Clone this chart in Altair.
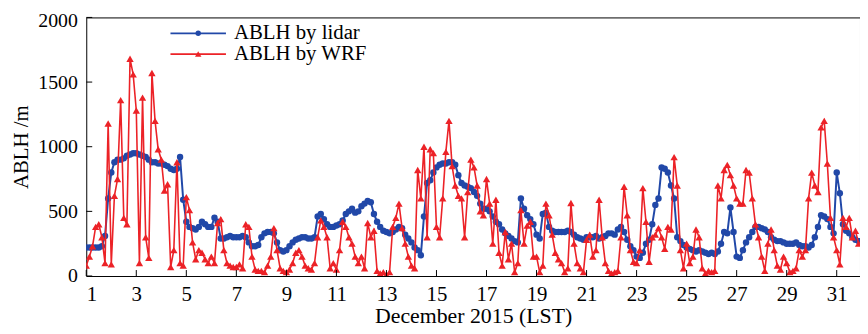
import altair as alt
import pandas as pd

# ---------------- data (3-hourly) ----------------
days = list(range(1, 32))
hours = [0, 3, 6, 9, 12, 15, 18, 21]

lidar = [
    220, 220, 220, 220, 220, 230, 310, 600,    # 1
    800, 880, 900, 900, 910, 930, 940, 950,    # 2
    950, 940, 930, 920, 900, 880, 880, 870,    # 3
    870, 860, 850, 830, 820, 830, 920, 590,    # 4
    420, 380, 370, 360, 380, 420, 400, 380,    # 5
    380, 450, 420, 290, 290, 300, 310, 300,    # 6
    300, 300, 310, 300, 260, 230, 230, 240,    # 7
    300, 330, 340, 340, 330, 260, 200, 190,    # 8
    200, 230, 260, 280, 290, 300, 300, 290,    # 9
    290, 300, 460, 480, 440, 400, 380, 380,    # 10
    390, 400, 430, 480, 500, 520, 490, 500,    # 11
    540, 560, 580, 570, 480, 420, 380, 350,    # 12
    340, 330, 340, 360, 380, 370, 320, 290,    # 13
    260, 220, 200, 160, 460, 720, 740, 800,    # 14
    840, 860, 870, 870, 880, 880, 860, 780,    # 15
    720, 700, 690, 680, 650, 620, 560, 520,    # 16
    520, 500, 460, 420, 400, 360, 330, 310,    # 17
    290, 270, 260, 600, 520, 470, 440, 400,    # 18
    320, 290, 480, 490, 380, 350, 340, 340,    # 19
    340, 340, 350, 340, 320, 300, 290, 280,    # 20
    300, 300, 300, 310, 290, 300, 310, 330,    # 21
    330, 320, 360, 380, 340, 280, 230, 200,    # 22
    150, 140, 180, 250, 280, 400, 550, 600,    # 23
    840, 830, 800, 700, 600, 300, 270, 240,    # 24
    220, 210, 200, 190, 200, 190, 180, 170,    # 25
    180, 170, 190, 250, 340, 330, 530, 340,    # 26
    150, 140, 200, 260, 300, 340, 380, 380,    # 27
    370, 360, 340, 300, 280, 270, 270, 260,    # 28
    250, 250, 250, 260, 240, 230, 230, 220,    # 29
    240, 300, 380, 470, 460, 440, 380, 330,    # 30
    800, 640, 400, 350, 330, 300, 280, 270,    # 31
]

wrf = [
    80, 150, 230, 380, 400, 300, 100, 1180,     # 1
    90, 620, 750, 1360, 450, 400, 1680, 1560,   # 2
    1280, 100, 1380, 300, 140, 1570, 1200, 980, # 3
    900, 660, 710, 70, 200, 880, 100, 80,       # 4
    610, 510, 260, 130, 200, 180, 130, 100,     # 5
    150, 100, 410, 440, 200, 100, 80, 70,       # 6
    70, 90, 60, 400, 380, 150, 50, 40,          # 7
    40, 30, 80, 150, 370, 200, 60, 40,          # 8
    30, 50, 100, 180, 200, 150, 80, 60,         # 9
    50, 100, 300, 430, 380, 300, 60, 100,       # 10
    50, 200, 420, 380, 300, 250, 150, 100,      # 11
    150, 60, 410, 300, 350, 40, 20, 30,         # 12
    10, 30, 380, 450, 560, 370, 250, 150,       # 13
    80, 60, 820, 600, 1000, 300, 980, 950,      # 14
    380, 300, 600, 960, 1200, 850, 700, 620,    # 15
    600, 300, 650, 900, 840, 700, 500, 470,     # 16
    750, 560, 250, 590, 180, 80, 340, 130,      # 17
    250, 30, 100, 510, 250, 390, 420, 150,      # 18
    150, 30, 80, 560, 470, 320, 180, 130,       # 19
    100, 30, 60, 565, 250, 100, 60, 30,         # 20
    280, 320, 150, 200, 590, 300, 100, 40,      # 21
    20, 30, 40, 300, 690, 470, 200, 110,        # 22
    100, 200, 680, 420, 110, 300, 320, 370,     # 23
    300, 210, 380, 360, 920, 700, 200, 60,      # 24
    250, 100, 150, 360, 300, 60, 20, 40,        # 25
    30, 40, 700, 600, 820, 860, 780, 700,       # 26
    600, 560, 560, 820, 800, 600, 400, 300,     # 27
    150, 40, 250, 360, 200, 80, 50, 150,        # 28
    100, 30, 40, 60, 200, 150, 200, 600,        # 29
    800, 700, 650, 1150, 1200, 870, 450, 300,   # 30
    200, 90, 450, 380, 450, 300, 350, 250,      # 31
]

x_ticks = list(range(1, 32, 2))
y_ticks = [0, 500, 1000, 1500, 2000]
legend_labels = ["ABLH by lidar", "ABLH by WRF"]

# ---------------- styling ----------------
BLUE = "#2148a8"
RED = "#ec2227"
FONT = "Liberation Serif, Times New Roman, DejaVu Serif, serif"
W, H = 781, 261
PX_PER_DAY = 25.25

t = [d + h / 24 for d in days for h in hours]
df_lidar = pd.DataFrame({"t": t, "v": lidar})
df_wrf = pd.DataFrame({"t": t, "v": wrf})

X = alt.X(
    "t:Q",
    scale=alt.Scale(domain=[1, 1 + W / PX_PER_DAY], nice=False, zero=False),
    axis=alt.Axis(
        values=x_ticks, format="d", tickSize=0, domain=False, grid=False,
        labelFont=FONT, labelFontSize=21, labelColor="black", labelPadding=8,
        title="December 2015 (LST)", titleFont=FONT, titleFontSize=22,
        titleFontWeight="normal", titleColor="black", titlePadding=1,
    ),
)
Y = alt.Y(
    "v:Q",
    scale=alt.Scale(domain=[0, 2000], nice=False),
    axis=alt.Axis(
        values=y_ticks, format="d", tickSize=0, domain=False, grid=False,
        labelFont=FONT, labelFontSize=20, labelColor="black", labelPadding=9,
        labelFlush=False,
        labelOffset=alt.condition("datum.value == 2000", alt.value(3), alt.value(0)),
        title="ABLH /m", titleFont=FONT, titleFontSize=21,
        titleFontWeight="normal", titleColor="black", titlePadding=6,
    ),
)

lidar_line = alt.Chart(df_lidar).mark_line(color=BLUE, strokeWidth=2, clip=True).encode(x=X, y=Y)
lidar_pts = alt.Chart(df_lidar).mark_point(
    shape="circle", filled=True, color=BLUE, size=42, opacity=1, clip=True
).encode(x=X, y=Y)
wrf_line = alt.Chart(df_wrf).mark_line(color=RED, strokeWidth=1.6, clip=True).encode(x=X, y=Y)
wrf_pts = alt.Chart(df_wrf).mark_point(
    shape="triangle-up", filled=True, color=RED, size=55, opacity=1, clip=True
).encode(x=X, y=Y)

# inward ticks
xt = alt.Chart(pd.DataFrame({"t": x_ticks})).mark_rule(color="black", strokeWidth=1).encode(
    x=X, y=alt.value(H), y2=alt.value(H - 6)
)
yt = alt.Chart(pd.DataFrame({"v": y_ticks})).mark_rule(color="black", strokeWidth=1).encode(
    y=Y, x=alt.value(0), x2=alt.value(6)
)

# legend (drawn inside the plot)
leg = pd.DataFrame({"label": legend_labels})
leg1 = leg.iloc[[0]]
leg2 = leg.iloc[[1]]
LX0, LX1, LXM, LTX = 85, 141, 113, 149
LY1, LY2 = 16, 37

legend_layers = [
    alt.Chart(leg1).mark_rule(color=BLUE, strokeWidth=1.8).encode(
        x=alt.value(LX0), x2=alt.value(LX1), y=alt.value(LY1)),
    alt.Chart(leg1).mark_point(shape="circle", filled=True, color=BLUE, size=30, opacity=1).encode(
        x=alt.value(LXM), y=alt.value(LY1)),
    alt.Chart(leg1).mark_text(align="left", baseline="middle", font=FONT, fontSize=21, color="black").encode(
        x=alt.value(LTX), y=alt.value(LY1), text="label:N"),
    alt.Chart(leg2).mark_rule(color=RED, strokeWidth=1.8).encode(
        x=alt.value(LX0), x2=alt.value(LX1), y=alt.value(LY2)),
    alt.Chart(leg2).mark_point(shape="triangle-up", filled=True, color=RED, size=42, opacity=1).encode(
        x=alt.value(LXM), y=alt.value(LY2)),
    alt.Chart(leg2).mark_text(align="left", baseline="middle", font=FONT, fontSize=21, color="black").encode(
        x=alt.value(LTX), y=alt.value(LY2), text="label:N"),
]

chart = alt.layer(
    lidar_line, lidar_pts, wrf_line, wrf_pts, xt, yt, *legend_layers
).properties(
    width=W, height=H,
    autosize=alt.AutoSizeParams(type="none"),
    padding={"left": 79, "top": 8, "right": 0, "bottom": 55},
    background="white",
).configure_view(stroke="black", strokeWidth=1)

chart.save("out.html", embed_options={"renderer": "svg", "actions": False})
